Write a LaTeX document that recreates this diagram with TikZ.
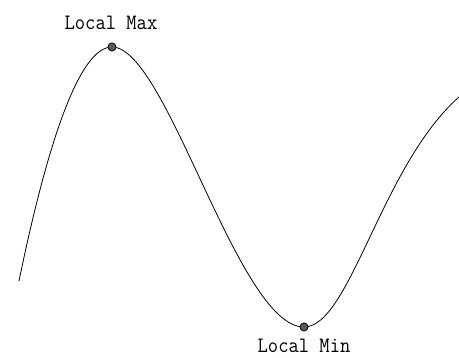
\documentclass[tikz,border=0pt]{standalone}
\usetikzlibrary{positioning}
\tikzset{
  extremum/.style={circle,draw=black,fill=black!65,line width=0.6pt,inner sep=0pt,minimum size=8pt},
  extlabel/.style={font=\ttfamily\fontsize{20}{20}\selectfont,inner sep=0pt}
}
\begin{document}
\begin{tikzpicture}[x=1pt,y=1pt]
  \useasboundingbox (0,0) rectangle (459,358);
  \coordinate (start) at (19,77);
  \coordinate (end) at (459,261);
  \node[extremum] (max) at (112,311) {};
  \node[extremum] (min) at (304,31) {};
  \draw[line width=0.8pt] (start) .. controls (47,213) and (79,311) .. (max.center)
    .. controls (167,311) and (238,31) .. (min.center)
    .. controls (350,31) and (381,192) .. (end);
  \node[extremum] at (max) {};
  \node[extremum] at (min) {};
  \node[extlabel,anchor=base] (maxlabel) at (111,328) {\scalebox{1}[1.1]{Local Max}};
  \node[extlabel,anchor=base] (minlabel) at (304,5) {\scalebox{1}[1.1]{Local Min}};
\end{tikzpicture}
\end{document}
